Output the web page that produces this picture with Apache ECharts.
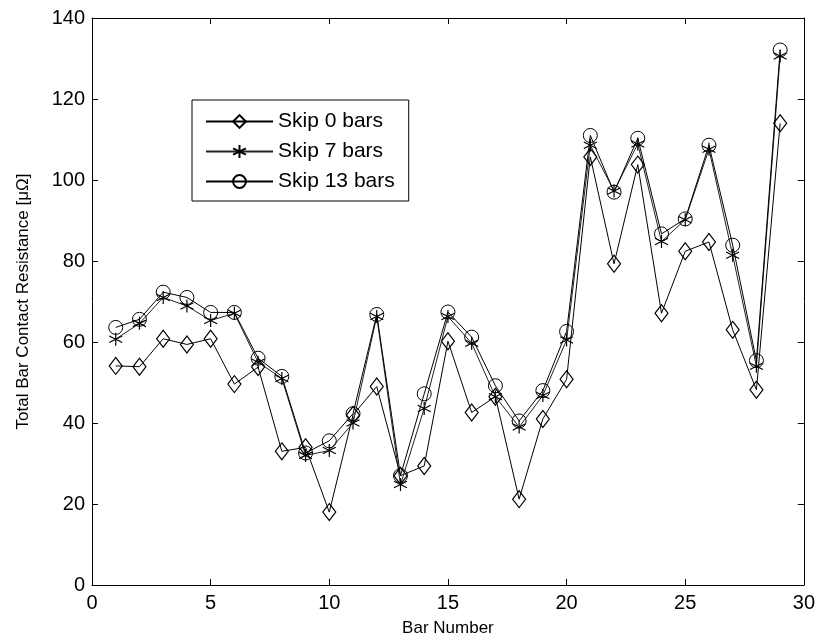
<!DOCTYPE html>
<html>
<head>
<meta charset="utf-8">
<script src="https://cdn.jsdelivr.net/npm/echarts@6/dist/echarts.min.js"></script>
<style>html,body{margin:0;padding:0;background:#fff;}#c{width:818px;height:642px;}</style>
</head>
<body>
<div id="c"></div>
<script>
var barNumbers = [1,2,3,4,5,6,7,8,9,10,11,12,13,14,15,16,17,18,19,20,21,22,23,24,25,26,27,28,29];
var skip0 = [54.1,53.9,60.8,59.4,60.8,49.6,53.8,33.0,34.0,18.0,42.0,49.0,27.0,29.4,60.2,42.6,46.5,21.2,41.0,50.8,105.7,79.3,103.8,67.1,82.4,84.7,63.0,48.2,114.0];
var skip7 = [60.7,64.6,71.0,68.9,65.3,67.1,55.0,51.0,32.0,33.2,40.0,66.3,24.8,43.6,66.3,59.7,46.5,39.0,46.8,60.5,108.6,97.3,108.9,84.8,90.2,107.6,81.4,54.0,130.6];
var skip13 = [63.6,65.6,72.3,71.0,67.3,67.3,56.0,51.5,32.6,35.6,42.3,66.8,27.0,47.2,67.4,61.2,49.2,40.5,48.0,62.6,111.0,97.0,110.3,86.7,90.4,108.6,83.9,55.4,132.1];
var xTicks = {min: 0, max: 30, interval: 5};
var yTicks = {min: 0, max: 140, interval: 20};
var seriesNames = ['Skip 0 bars', 'Skip 7 bars', 'Skip 13 bars'];

function pairs(arr){ return arr.map(function(v,i){ return [barNumbers[i], v]; }); }

var FONT = 'Liberation Sans';
var star = 'path://M0,-10L0,10M-8.66,-5L8.66,5M-8.66,5L8.66,-5';

var chart = echarts.init(document.getElementById('c'), null, {renderer: 'canvas'});
var baseAxis = {
  axisLine: {show: true, onZero: false, lineStyle: {color: '#000', width: 1}},
  axisTick: {show: true, inside: true, length: 6, lineStyle: {color: '#000'}},
  splitLine: {show: false}
};
chart.setOption({
  animation: false,
  backgroundColor: '#fff',
  grid: {left: 92, top: 18, right: 12, bottom: 57},
  legend: {
    orient: 'vertical', left: 192, top: 100,
    data: seriesNames,
    backgroundColor: '#fff', borderColor: '#000', borderWidth: 1,
    padding: [11, 14, 9, 13],
    itemWidth: 67, itemHeight: 16, itemGap: 9,
    textStyle: {fontFamily: FONT, fontSize: 21, color: '#000'}
  },
  xAxis: [
    Object.assign({}, baseAxis, {type: 'value', position: 'bottom', min: xTicks.min, max: xTicks.max, interval: xTicks.interval,
      name: 'Bar Number', nameLocation: 'middle', nameGap: 35,
      nameTextStyle: {fontFamily: FONT, fontSize: 17, color: '#000'},
      axisLabel: {fontFamily: FONT, fontSize: 20, color: '#000', margin: 8}}),
    Object.assign({}, baseAxis, {type: 'value', position: 'top', min: xTicks.min, max: xTicks.max, interval: xTicks.interval,
      axisLabel: {show: false}})
  ],
  yAxis: [
    Object.assign({}, baseAxis, {type: 'value', position: 'left', min: yTicks.min, max: yTicks.max, interval: yTicks.interval,
      name: 'Total Bar Contact Resistance [μΩ]', nameLocation: 'middle', nameGap: 60,
      nameTextStyle: {fontFamily: FONT, fontSize: 17, color: '#000'},
      axisLabel: {fontFamily: FONT, fontSize: 20, color: '#000', margin: 7}}),
    Object.assign({}, baseAxis, {type: 'value', position: 'right', min: yTicks.min, max: yTicks.max, interval: yTicks.interval,
      axisLabel: {show: false}})
  ],
  series: [
    {name: seriesNames[0], type: 'line', data: pairs(skip0), symbol: 'diamond', symbolSize: [13, 17],
      lineStyle: {color: '#000', width: 1}, itemStyle: {color: 'transparent', borderColor: '#000', borderWidth: 1.2}},
    {name: seriesNames[1], type: 'line', data: pairs(skip7), symbol: star, symbolSize: 13,
      lineStyle: {color: '#222', width: 1}, itemStyle: {color: 'transparent', borderColor: '#000', borderWidth: 1.2}},
    {name: seriesNames[2], type: 'line', data: pairs(skip13), symbol: 'circle', symbolSize: 14,
      lineStyle: {color: '#000', width: 1}, itemStyle: {color: 'transparent', borderColor: '#000', borderWidth: 1}}
  ]
});
</script>
</body>
</html>
